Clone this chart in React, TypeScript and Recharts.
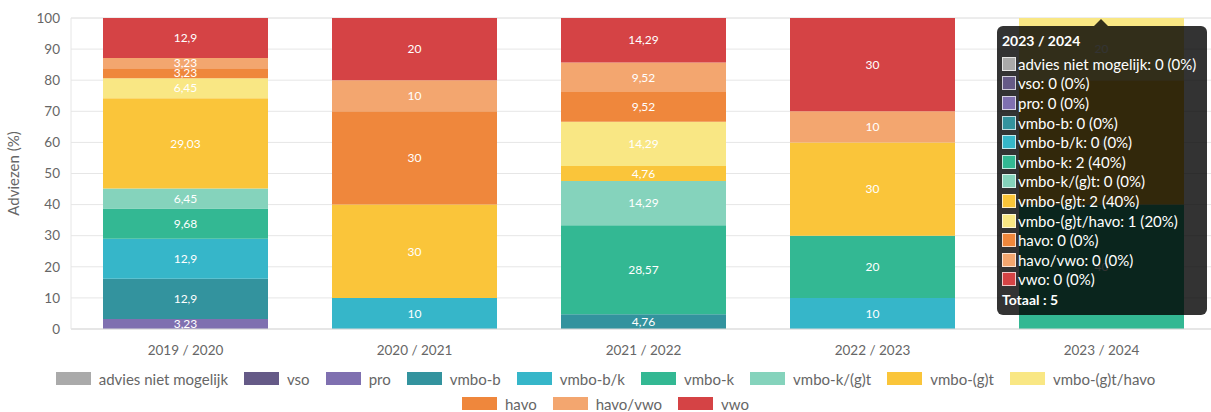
import React from 'react';
import {
  BarChart,
  Bar,
  XAxis,
  YAxis,
  CartesianGrid,
  Tooltip,
  Legend,
  LabelList,
} from 'recharts';

// schooljaren
const years = ['2019 / 2020', '2020 / 2021', '2021 / 2022', '2022 / 2023', '2023 / 2024'];

// aantal adviezen per categorie, per schooljaar
const adviesNietMogelijk = [0, 0, 0, 0, 0];
const vso = [0, 0, 0, 0, 0];
const pro = [1, 0, 0, 0, 0];
const vmboB = [4, 0, 1, 0, 0];
const vmboBK = [4, 1, 0, 1, 0];
const vmboK = [3, 0, 6, 2, 2];
const vmboKGT = [2, 0, 3, 0, 0];
const vmboGT = [9, 3, 1, 3, 2];
const vmboGTHavo = [2, 0, 3, 0, 1];
const havo = [1, 3, 2, 0, 0];
const havoVwo = [1, 1, 2, 1, 0];
const vwo = [4, 2, 3, 3, 0];

const yTicks = [0, 10, 20, 30, 40, 50, 60, 70, 80, 90, 100];

const series = [
  { key: 'advies niet mogelijk', counts: adviesNietMogelijk, color: '#aaaaaa' },
  { key: 'vso', counts: vso, color: '#655a87' },
  { key: 'pro', counts: pro, color: '#7f70b0' },
  { key: 'vmbo-b', counts: vmboB, color: '#33939e' },
  { key: 'vmbo-b/k', counts: vmboBK, color: '#36b6c9' },
  { key: 'vmbo-k', counts: vmboK, color: '#33b893' },
  { key: 'vmbo-k/(g)t', counts: vmboKGT, color: '#85d3bc' },
  { key: 'vmbo-(g)t', counts: vmboGT, color: '#fac53a' },
  { key: 'vmbo-(g)t/havo', counts: vmboGTHavo, color: '#f9e784' },
  { key: 'havo', counts: havo, color: '#ef873c' },
  { key: 'havo/vwo', counts: havoVwo, color: '#f3a66f' },
  { key: 'vwo', counts: vwo, color: '#d54345' },
];

const totals = years.map((_, i) => series.reduce((s, d) => s + d.counts[i], 0));

const data = years.map((year, i) => {
  const row: any = { year };
  series.forEach((s) => {
    row[s.key] = Math.round((s.counts[i] / totals[i]) * 10000) / 100;
  });
  return row;
});

const FONT = 'Lato, "Open Sans", sans-serif';

const fmt = (v: any) => (Number(v) === 0 ? '' : String(v).replace('.', ','));

const LegendBox = () => {
  const rows = [series.slice(0, 9), series.slice(9)];
  return (
    <div style={{ fontFamily: FONT, fontSize: 15, color: '#666' }}>
      {rows.map((row, r) => (
        <div
          key={r}
          style={{ display: 'flex', justifyContent: 'center', height: 25, alignItems: 'center' }}
        >
          {row.map((s) => (
            <div key={s.key} style={{ display: 'flex', alignItems: 'center', margin: '0 8px' }}>
              <span
                style={{
                  display: 'inline-block',
                  width: 35,
                  height: 13,
                  background: s.color,
                  marginRight: 8,
                }}
              />
              <span>{s.key}</span>
            </div>
          ))}
        </div>
      ))}
    </div>
  );
};

const TooltipBox = (props: any) => {
  let i = years.indexOf(props.label);
  if (i < 0) i = years.length - 1;
  return (
    <div
      style={{
        position: 'relative',
        width: 199,
        padding: '6px 6px 6px 5px',
        background: 'rgba(0,0,0,0.8)',
        borderRadius: 6,
        color: '#fff',
        fontFamily: FONT,
        fontSize: 15,
      }}
    >
      <div
        style={{
          position: 'absolute',
          top: -7,
          left: 97,
          width: 0,
          height: 0,
          borderLeft: '7px solid transparent',
          borderRight: '7px solid transparent',
          borderBottom: '7px solid rgba(0,0,0,0.8)',
        }}
      />
      <div style={{ fontWeight: 'bold', fontSize: 14, lineHeight: '18px', marginBottom: 4 }}>{years[i]}</div>
      {series.map((s) => (
        <div key={s.key} style={{ display: 'flex', alignItems: 'center', height: 19.6 }}>
          <span
            style={{
              display: 'inline-block',
              width: 12,
              height: 12,
              background: s.color,
              border: '1px solid rgba(255,255,255,0.7)',
              marginRight: 2,
              flexShrink: 0,
            }}
          />
          <span style={{ whiteSpace: 'nowrap' }}>
            {s.key}: {s.counts[i]} ({Math.round((s.counts[i] / totals[i]) * 100)}%)
          </span>
        </div>
      ))}
      <div style={{ fontWeight: 'bold', fontSize: 14, lineHeight: '18px', marginTop: 2 }}>Totaal : {totals[i]}</div>
    </div>
  );
};

export default function App() {
  return (
    <div style={{ position: 'absolute', left: 0, top: 0, width: 1211, height: 412, overflow: 'hidden' }}>
      <BarChart
        width={1216}
        height={416}
        data={data}
        margin={{ top: 18, right: 0, left: 0, bottom: 0 }}
        style={{ fontFamily: FONT }}
      >
        <CartesianGrid vertical={false} stroke="#e6e6e6" />
        <XAxis
          dataKey="year"
          height={37}
          tickLine={false}
          tickMargin={10}
          axisLine={{ stroke: '#d9d9d9' }}
          tick={{ fill: '#666', fontSize: 13.5 }}
        />
        <YAxis
          width={71}
          domain={[0, 100]}
          ticks={yTicks}
          interval={0}
          tickLine={false}
          tickMargin={5}
          axisLine={{ stroke: '#e6e6e6' }}
          tick={{ fill: '#666', fontSize: 13.5 }}
          label={{
            value: 'Adviezen (%)',
            angle: -90,
            position: 'insideLeft',
            offset: 14,
            fill: '#666',
            fontSize: 15,
            style: { textAnchor: 'middle' },
          }}
        />
        <Tooltip
          active
          defaultIndex={4}
          cursor={false}
          position={{ x: 997, y: 26 }}
          content={<TooltipBox />}
          isAnimationActive={false}
        />
        <Legend
          verticalAlign="bottom"
          content={<LegendBox />}
          wrapperStyle={{ left: 0, width: 1211 }}
        />
        {series.map((s) => (
          <Bar
            key={s.key}
            dataKey={s.key}
            stackId="a"
            fill={s.color}
            barSize={165}
            isAnimationActive={false}
          >
            <LabelList dataKey={s.key} position="center" fill="#fff" fontSize={12} formatter={fmt} />
          </Bar>
        ))}
      </BarChart>
    </div>
  );
}
